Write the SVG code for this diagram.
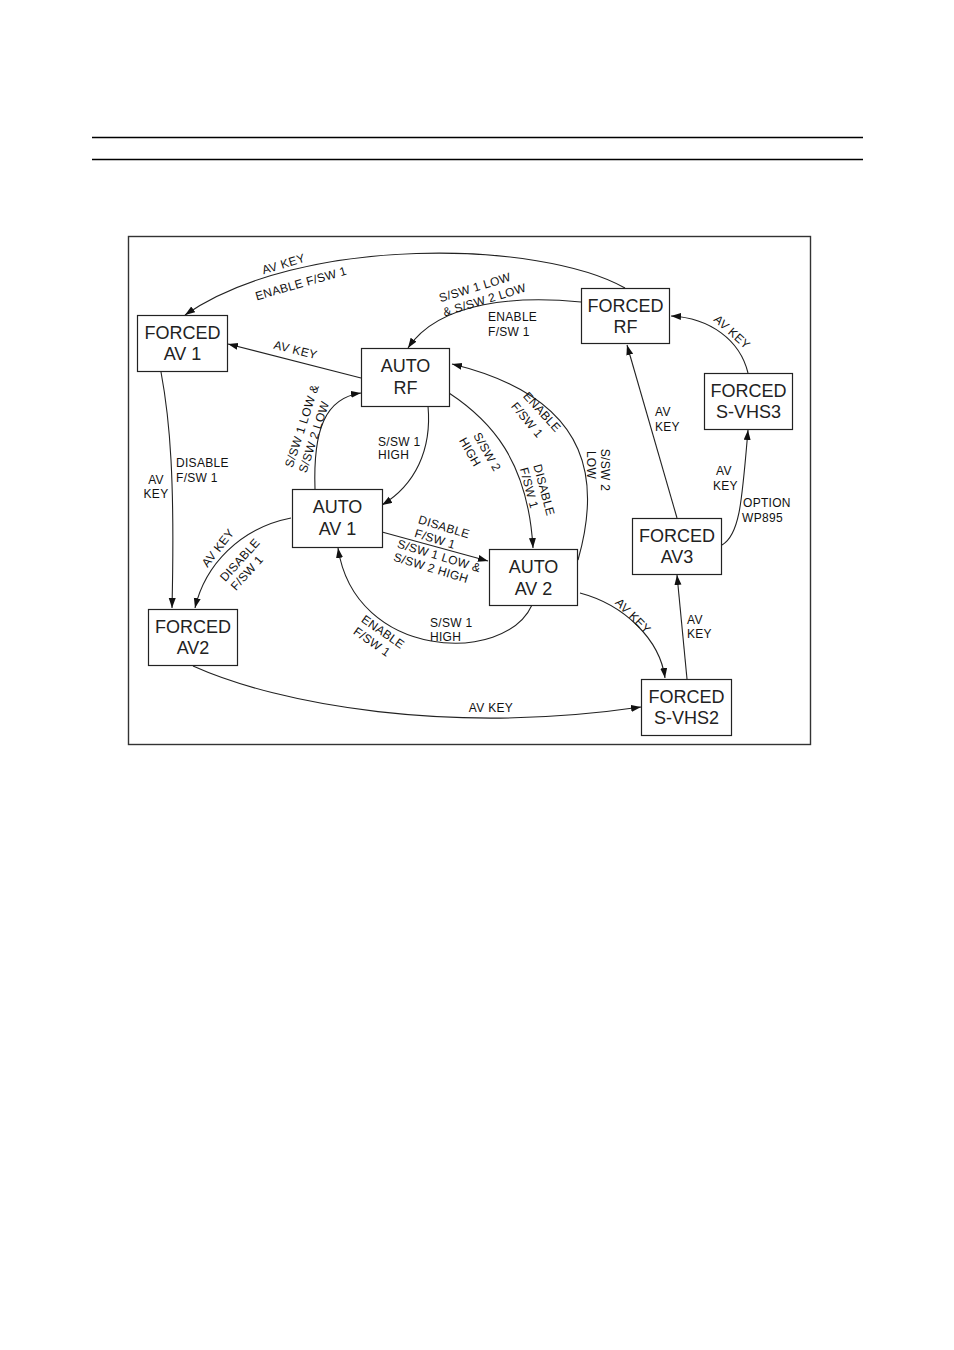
<svg xmlns="http://www.w3.org/2000/svg" width="954" height="1350" viewBox="0 0 954 1350">
<style>
.box{fill:#fff;stroke:#222;stroke-width:1.2}
.nt{font-family:"Liberation Sans",Arial,sans-serif;font-size:18px;fill:#222;text-anchor:middle}
.e{fill:none;stroke:#222;stroke-width:1.1;marker-end:url(#ah)}
.l{font-family:"Liberation Sans",Arial,sans-serif;font-size:12px;fill:#111;letter-spacing:0.3px}
.c{text-anchor:middle}
</style>
<defs>
<marker id="ah" markerWidth="11" markerHeight="8" refX="10" refY="3.5" orient="auto" markerUnits="userSpaceOnUse">
<path d="M0,0 L10,3.5 L0,7 z" fill="#111"/>
</marker>
</defs>
<rect width="954" height="1350" fill="#fff"/>
<line x1="92" y1="137.5" x2="863" y2="137.5" stroke="#000" stroke-width="1.3"/>
<line x1="92" y1="159.5" x2="863" y2="159.5" stroke="#000" stroke-width="1.3"/>
<rect x="128.5" y="236.5" width="682" height="508" fill="none" stroke="#333" stroke-width="1.4"/>

<g id="connectors">
<path class="e" d="M625,288 C540,240 300,235 185,315"/>
<path class="e" d="M361,378 L228,344"/>
<path class="e" d="M581,302 C520,296 440,300 408,348"/>
<path class="e" d="M578,560 C598,490 600,400 452,364"/>
<path class="e" d="M449,393 C490,420 528,460 533,548"/>
<path class="e" d="M428,406 C432,450 415,485 382,505"/>
<path class="e" d="M315,489 C313,430 325,398 361,393"/>
<path class="e" d="M161,372 C170,420 175,480 172,608"/>
<path class="e" d="M291,518 C240,528 205,565 195,608"/>
<path class="e" d="M382,532 L488,561"/>
<path class="e" d="M532,605 C505,665 355,660 338,548"/>
<path class="e" d="M580,593 C625,605 660,640 665,678"/>
<path class="e" d="M193,666 C280,705 450,735 641,707"/>
<path class="e" d="M687,679 L677,575"/>
<path class="e" d="M677,518 L627,345"/>
<path class="e" d="M722,545 C740,535 742,500 748,430"/>
<path class="e" d="M748,373 C740,340 710,318 671,316"/>
</g>

<g id="labels">
<text class="l c" transform="translate(283.5,264) rotate(-17)" y="4">AV KEY</text>
<text class="l c" transform="translate(301,283.5) rotate(-16)" y="4">ENABLE F/SW 1</text>
<text class="l c" transform="translate(295.5,350) rotate(14)" y="4">AV KEY</text>
<text class="l c" transform="translate(475,287.5) rotate(-17)" y="4">S/SW 1 LOW</text>
<text class="l c" transform="translate(484.5,300) rotate(-17)" y="4">&amp; S/SW 2 LOW</text>
<text class="l" x="488" y="321">ENABLE</text>
<text class="l" x="488" y="336">F/SW 1</text>
<text class="l c" transform="translate(542,412) rotate(48)" y="4">ENABLE</text>
<text class="l c" transform="translate(527,420) rotate(50)" y="4">F/SW 1</text>
<text class="l c" transform="translate(605,470) rotate(90)" y="4">S/SW 2</text>
<text class="l c" transform="translate(591,465) rotate(90)" y="4">LOW</text>
<text class="l c" transform="translate(487,452) rotate(60)" y="4">S/SW 2</text>
<text class="l c" transform="translate(470,452) rotate(60)" y="4">HIGH</text>
<text class="l c" transform="translate(544,490) rotate(75)" y="4">DISABLE</text>
<text class="l c" transform="translate(529,488) rotate(75)" y="4">F/SW 1</text>
<text class="l" x="378" y="446">S/SW 1</text>
<text class="l" x="378" y="459">HIGH</text>
<text class="l c" transform="translate(302,426) rotate(-72)" y="4">S/SW 1 LOW &amp;</text>
<text class="l c" transform="translate(314,437) rotate(-72)" y="4">S/SW 2 LOW</text>
<text class="l" x="176" y="467">DISABLE</text>
<text class="l" x="176" y="482">F/SW 1</text>
<text class="l c" x="156" y="484">AV</text>
<text class="l c" x="156" y="498">KEY</text>
<text class="l c" transform="translate(218,548) rotate(-52)" y="4">AV KEY</text>
<text class="l c" transform="translate(240,560) rotate(-48)" y="4">DISABLE</text>
<text class="l c" transform="translate(247,573) rotate(-48)" y="4">F/SW 1</text>
<text class="l c" transform="translate(444,527) rotate(17)" y="4">DISABLE</text>
<text class="l c" transform="translate(435,539) rotate(17)" y="4">F/SW 1</text>
<text class="l c" transform="translate(439,556) rotate(17)" y="4">S/SW 1 LOW &amp;</text>
<text class="l c" transform="translate(431,568) rotate(17)" y="4">S/SW 2 HIGH</text>
<text class="l" x="430" y="627">S/SW 1</text>
<text class="l" x="430" y="641">HIGH</text>
<text class="l c" transform="translate(383,632) rotate(35)" y="4">ENABLE</text>
<text class="l c" transform="translate(372,642) rotate(35)" y="4">F/SW 1</text>
<text class="l c" transform="translate(633,616) rotate(45)" y="4">AV KEY</text>
<text class="l c" x="491" y="712">AV KEY</text>
<text class="l" x="687" y="624">AV</text>
<text class="l" x="687" y="638">KEY</text>
<text class="l" x="655" y="416">AV</text>
<text class="l" x="655" y="431">KEY</text>
<text class="l" x="716" y="475">AV</text>
<text class="l" x="713" y="490">KEY</text>
<text class="l" x="743" y="507">OPTION</text>
<text class="l" x="742" y="522">WP895</text>
<text class="l c" transform="translate(732,332) rotate(42)" y="4">AV KEY</text>
</g>

<g id="forced-av1"><rect class="box" x="137.5" y="315.5" width="90" height="56"/><text class="nt" x="182.5" y="339">FORCED</text><text class="nt" x="182.5" y="360">AV 1</text></g>
<g id="auto-rf"><rect class="box" x="361.5" y="348.5" width="88" height="58"/><text class="nt" x="405.5" y="372">AUTO</text><text class="nt" x="405.5" y="394">RF</text></g>
<g id="forced-rf"><rect class="box" x="581.5" y="288.5" width="88" height="55"/><text class="nt" x="625.5" y="312">FORCED</text><text class="nt" x="625.5" y="333">RF</text></g>
<g id="forced-svhs3"><rect class="box" x="704.5" y="373.5" width="88" height="56"/><text class="nt" x="748.5" y="397">FORCED</text><text class="nt" x="748.5" y="418">S-VHS3</text></g>
<g id="auto-av1"><rect class="box" x="292.5" y="489.5" width="90" height="58"/><text class="nt" x="337.5" y="513">AUTO</text><text class="nt" x="337.5" y="535">AV 1</text></g>
<g id="auto-av2"><rect class="box" x="489.5" y="549.5" width="88" height="56"/><text class="nt" x="533.5" y="573">AUTO</text><text class="nt" x="533.5" y="595">AV 2</text></g>
<g id="forced-av3"><rect class="box" x="632.5" y="518.5" width="89" height="56"/><text class="nt" x="677" y="542">FORCED</text><text class="nt" x="677" y="563">AV3</text></g>
<g id="forced-av2"><rect class="box" x="148.5" y="609.5" width="89" height="56"/><text class="nt" x="193" y="633">FORCED</text><text class="nt" x="193" y="654">AV2</text></g>
<g id="forced-svhs2"><rect class="box" x="641.5" y="679.5" width="90" height="56"/><text class="nt" x="686.5" y="703">FORCED</text><text class="nt" x="686.5" y="724">S-VHS2</text></g>
</svg>
